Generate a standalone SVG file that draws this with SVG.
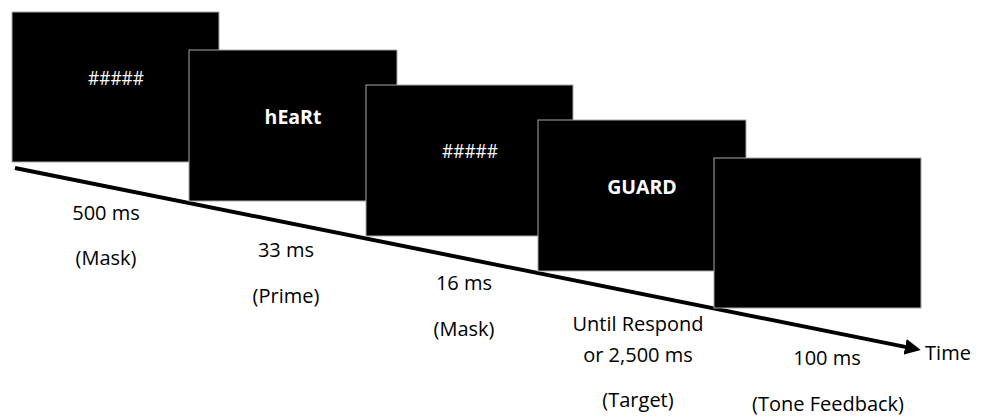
<svg xmlns="http://www.w3.org/2000/svg" width="987" height="419" viewBox="0 0 987 419">
<defs>
<style>
.scr{fill:#000;stroke:#a8a8a8;stroke-width:1}
.lbl{font-family:"Open Sans","Liberation Sans",sans-serif;font-size:20px;fill:#000;text-anchor:middle}
.in{font-family:"Open Sans","Liberation Sans",sans-serif;fill:#fff;text-anchor:middle}
.hash{font-size:20px}
.bold{font-size:19.5px;font-weight:bold}
</style>
<marker id="ah" markerWidth="4" markerHeight="4" refX="1" refY="2" orient="auto" markerUnits="strokeWidth">
<path d="M0,0 L4,2 L0,4 Z" fill="#000"/>
</marker>
</defs>
<rect width="987" height="419" fill="#fff"/>
<g id="connectors">
<line x1="15" y1="168" x2="909" y2="347.6" stroke="#000" stroke-width="4" marker-end="url(#ah)"/>
</g>
<g id="screen1">
<rect class="scr" x="12" y="12" width="207" height="150"/>
<text class="in hash" x="116" y="85" textLength="56" lengthAdjust="spacingAndGlyphs">#####</text>
</g>
<g id="screen2">
<rect class="scr" x="189" y="50" width="208" height="151"/>
<text class="in bold" x="293" y="124">hEaRt</text>
</g>
<g id="screen3">
<rect class="scr" x="366" y="85" width="207" height="151"/>
<text class="in hash" x="470" y="158" textLength="56" lengthAdjust="spacingAndGlyphs">#####</text>
</g>
<g id="screen4">
<rect class="scr" x="538" y="120" width="208" height="151"/>
<text class="in bold" x="642" y="194">GUARD</text>
</g>
<g id="screen5">
<rect class="scr" x="714" y="158" width="207" height="150"/>
</g>
<g id="labels">
<text class="lbl" x="106" y="220">500 ms</text>
<text class="lbl" x="106" y="265">(Mask)</text>
<text class="lbl" x="286" y="257">33 ms</text>
<text class="lbl" x="286" y="303">(Prime)</text>
<text class="lbl" x="464" y="290">16 ms</text>
<text class="lbl" x="464" y="336">(Mask)</text>
<text class="lbl" x="638" y="331">Until Respond</text>
<text class="lbl" x="638" y="362">or 2,500 ms</text>
<text class="lbl" x="638" y="407">(Target)</text>
<text class="lbl" x="827" y="365">100 ms</text>
<text class="lbl" x="828" y="411">(Tone Feedback)</text>
<text class="lbl" x="948" y="360">Time</text>
</g>
</svg>
